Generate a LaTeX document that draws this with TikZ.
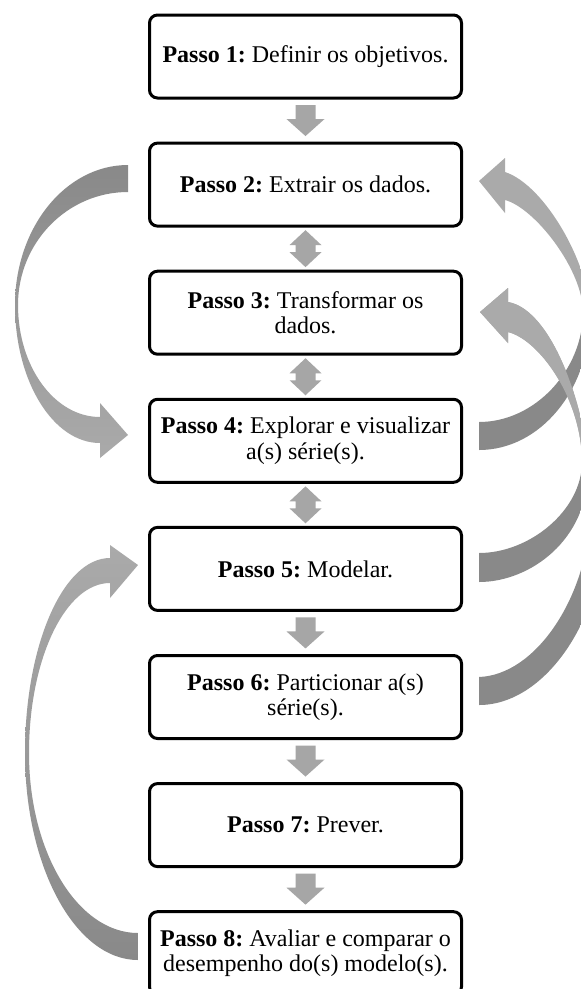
\documentclass[tikz,border=0pt]{standalone}
\usepackage{fontspec}
\setmainfont{Liberation Serif}
\usetikzlibrary{calc}

\definecolor{arrgray}{RGB}{166,166,166}
\definecolor{clight}{RGB}{170,170,170}
\definecolor{cdark}{RGB}{137,137,137}
% feedback arcs: dark at the tail (bottom), light at the head (top)
\pgfdeclareverticalshading{backarc}{100bp}{color(0bp)=(cdark); color(45.5bp)=(cdark); color(48bp)=(clight); color(100bp)=(clight)}

\begin{document}
\frenchspacing
\begin{tikzpicture}[x=1pt,y=-1pt,
  stepbox/.style={draw, line width=3pt, rounded corners=8pt,
    minimum width=312pt, minimum height=83pt, inner sep=0pt,
    align=center, font=\fontsize{24}{25.5}\selectfont\frenchspacing},
  downarr/.pic={\fill[arrgray] (-10,-15.5) -- (10,-15.5) -- (10,-1.5) -- (19,-1.5)
      -- (0,15.5) -- (-19,-1.5) -- (-10,-1.5) -- cycle;},
  bothways/.pic={\fill[arrgray] (0,-18.5) -- (16,-3.5) -- (10,-3.5) -- (10,3.5)
      -- (16,3.5) -- (0,18.5) -- (-16,3.5) -- (-10,3.5) -- (-10,-3.5) -- (-16,-3.5) -- cycle;}]

\useasboundingbox (0,0) rectangle (581,989);
\clip (0,0) rectangle (581,989);
\fill[white] (0,0) rectangle (581,989);

% ---- the eight steps
\node[stepbox] (s1) at (305.5,56.5)  {\textbf{Passo 1:} Definir os objetivos.};
\node[stepbox] (s2) at (305.5,184.6) {\textbf{Passo 2:} Extrair os dados.};
\node[stepbox] (s3) at (305.5,312.7) {\textbf{Passo 3:} Transformar os\\dados.};
\node[stepbox] (s4) at (305.5,440.8) {\textbf{Passo 4:} Explorar e visualizar\\a(s) série(s).};
\node[stepbox] (s5) at (305.5,568.9) {\textbf{Passo 5:} Modelar.};
\node[stepbox] (s6) at (305.5,697.0) {\textbf{Passo 6:} Particionar a(s)\\série(s).};
\node[stepbox] (s7) at (305.5,825.1) {\textbf{Passo 7:} Prever.};
\node[stepbox] (s8) at (305.5,953.2) {\textbf{Passo 8:} Avaliar e comparar o\\desempenho do(s) modelo(s).};

% ---- arrows between consecutive steps
\pic at ($(s1.south)!0.5!(s2.north)$) {downarr};
\pic at ($(s2.south)!0.5!(s3.north)$) {bothways};
\pic at ($(s3.south)!0.5!(s4.north)$) {bothways};
\pic at ($(s4.south)!0.5!(s5.north)$) {bothways};
\pic at ($(s5.south)!0.5!(s6.north)$) {downarr};
\pic at ($(s6.south)!0.5!(s7.north)$) {downarr};
\pic at ($(s7.south)!0.5!(s8.north)$) {downarr};

% ---- left loop: step 2 -> step 4
\shade[top color=cdark, bottom color=clight]
  (128,165) .. controls (65.6,165) and (15,227.7) .. (15,305)
  .. controls (15,381.2) and (53.1,443) .. (100,443)
  -- (100,458) -- (128,435) -- (100,403) -- (100,417)
  .. controls (54.7,417) and (18,366.9) .. (18,305)
  .. controls (18,242.6) and (67.2,192) .. (128,192) -- cycle;

% ---- left loop: step 8 -> step 5
\shade[top color=clight, bottom color=cdark]
  (138,960) .. controls (75.6,960) and (25,867.3) .. (25,753)
  .. controls (25,645.3) and (63.1,558) .. (110,558)
  -- (110,545) -- (138,565) -- (110,598) -- (110,583)
  .. controls (65.3,583) and (29,659.1) .. (29,753)
  .. controls (29,852.4) and (77.8,933) .. (138,933) -- cycle;

% ---- right loop: step 6 -> step 3
\shade[shading=backarc]
  (479,705) .. controls (545,705) and (600,620) .. (602,540)
  -- (602,470) -- (588,470)
  .. controls (588,420) and (555,310) .. (508,302)
  -- (508,288) -- (480,312) -- (508,343) -- (508,332)
  .. controls (540,340) and (582,400) .. (582,462)
  -- (590,520)
  .. controls (585,600) and (535,675) .. (479,677) -- cycle;

% ---- right loop: step 4 -> step 2
\shade[shading=backarc]
  (479,450) .. controls (540,450) and (590,390) .. (590,315)
  .. controls (590,265) and (545,185) .. (505,172)
  -- (505,158) -- (479,181) -- (505,213) -- (505,200)
  .. controls (535,208) and (583,270) .. (583,312)
  .. controls (583,370) and (535,422) .. (479,422) -- cycle;

% ---- right loop: step 5 -> step 3
\shade[shading=backarc]
  (479,582) .. controls (530,582) and (588,540) .. (588,470)
  .. controls (588,420) and (555,310) .. (508,302)
  -- (508,288) -- (480,312) -- (508,343) -- (508,332)
  .. controls (540,340) and (582,400) .. (582,462)
  .. controls (582,510) and (530,553) .. (479,553) -- cycle;

\end{tikzpicture}
\end{document}
